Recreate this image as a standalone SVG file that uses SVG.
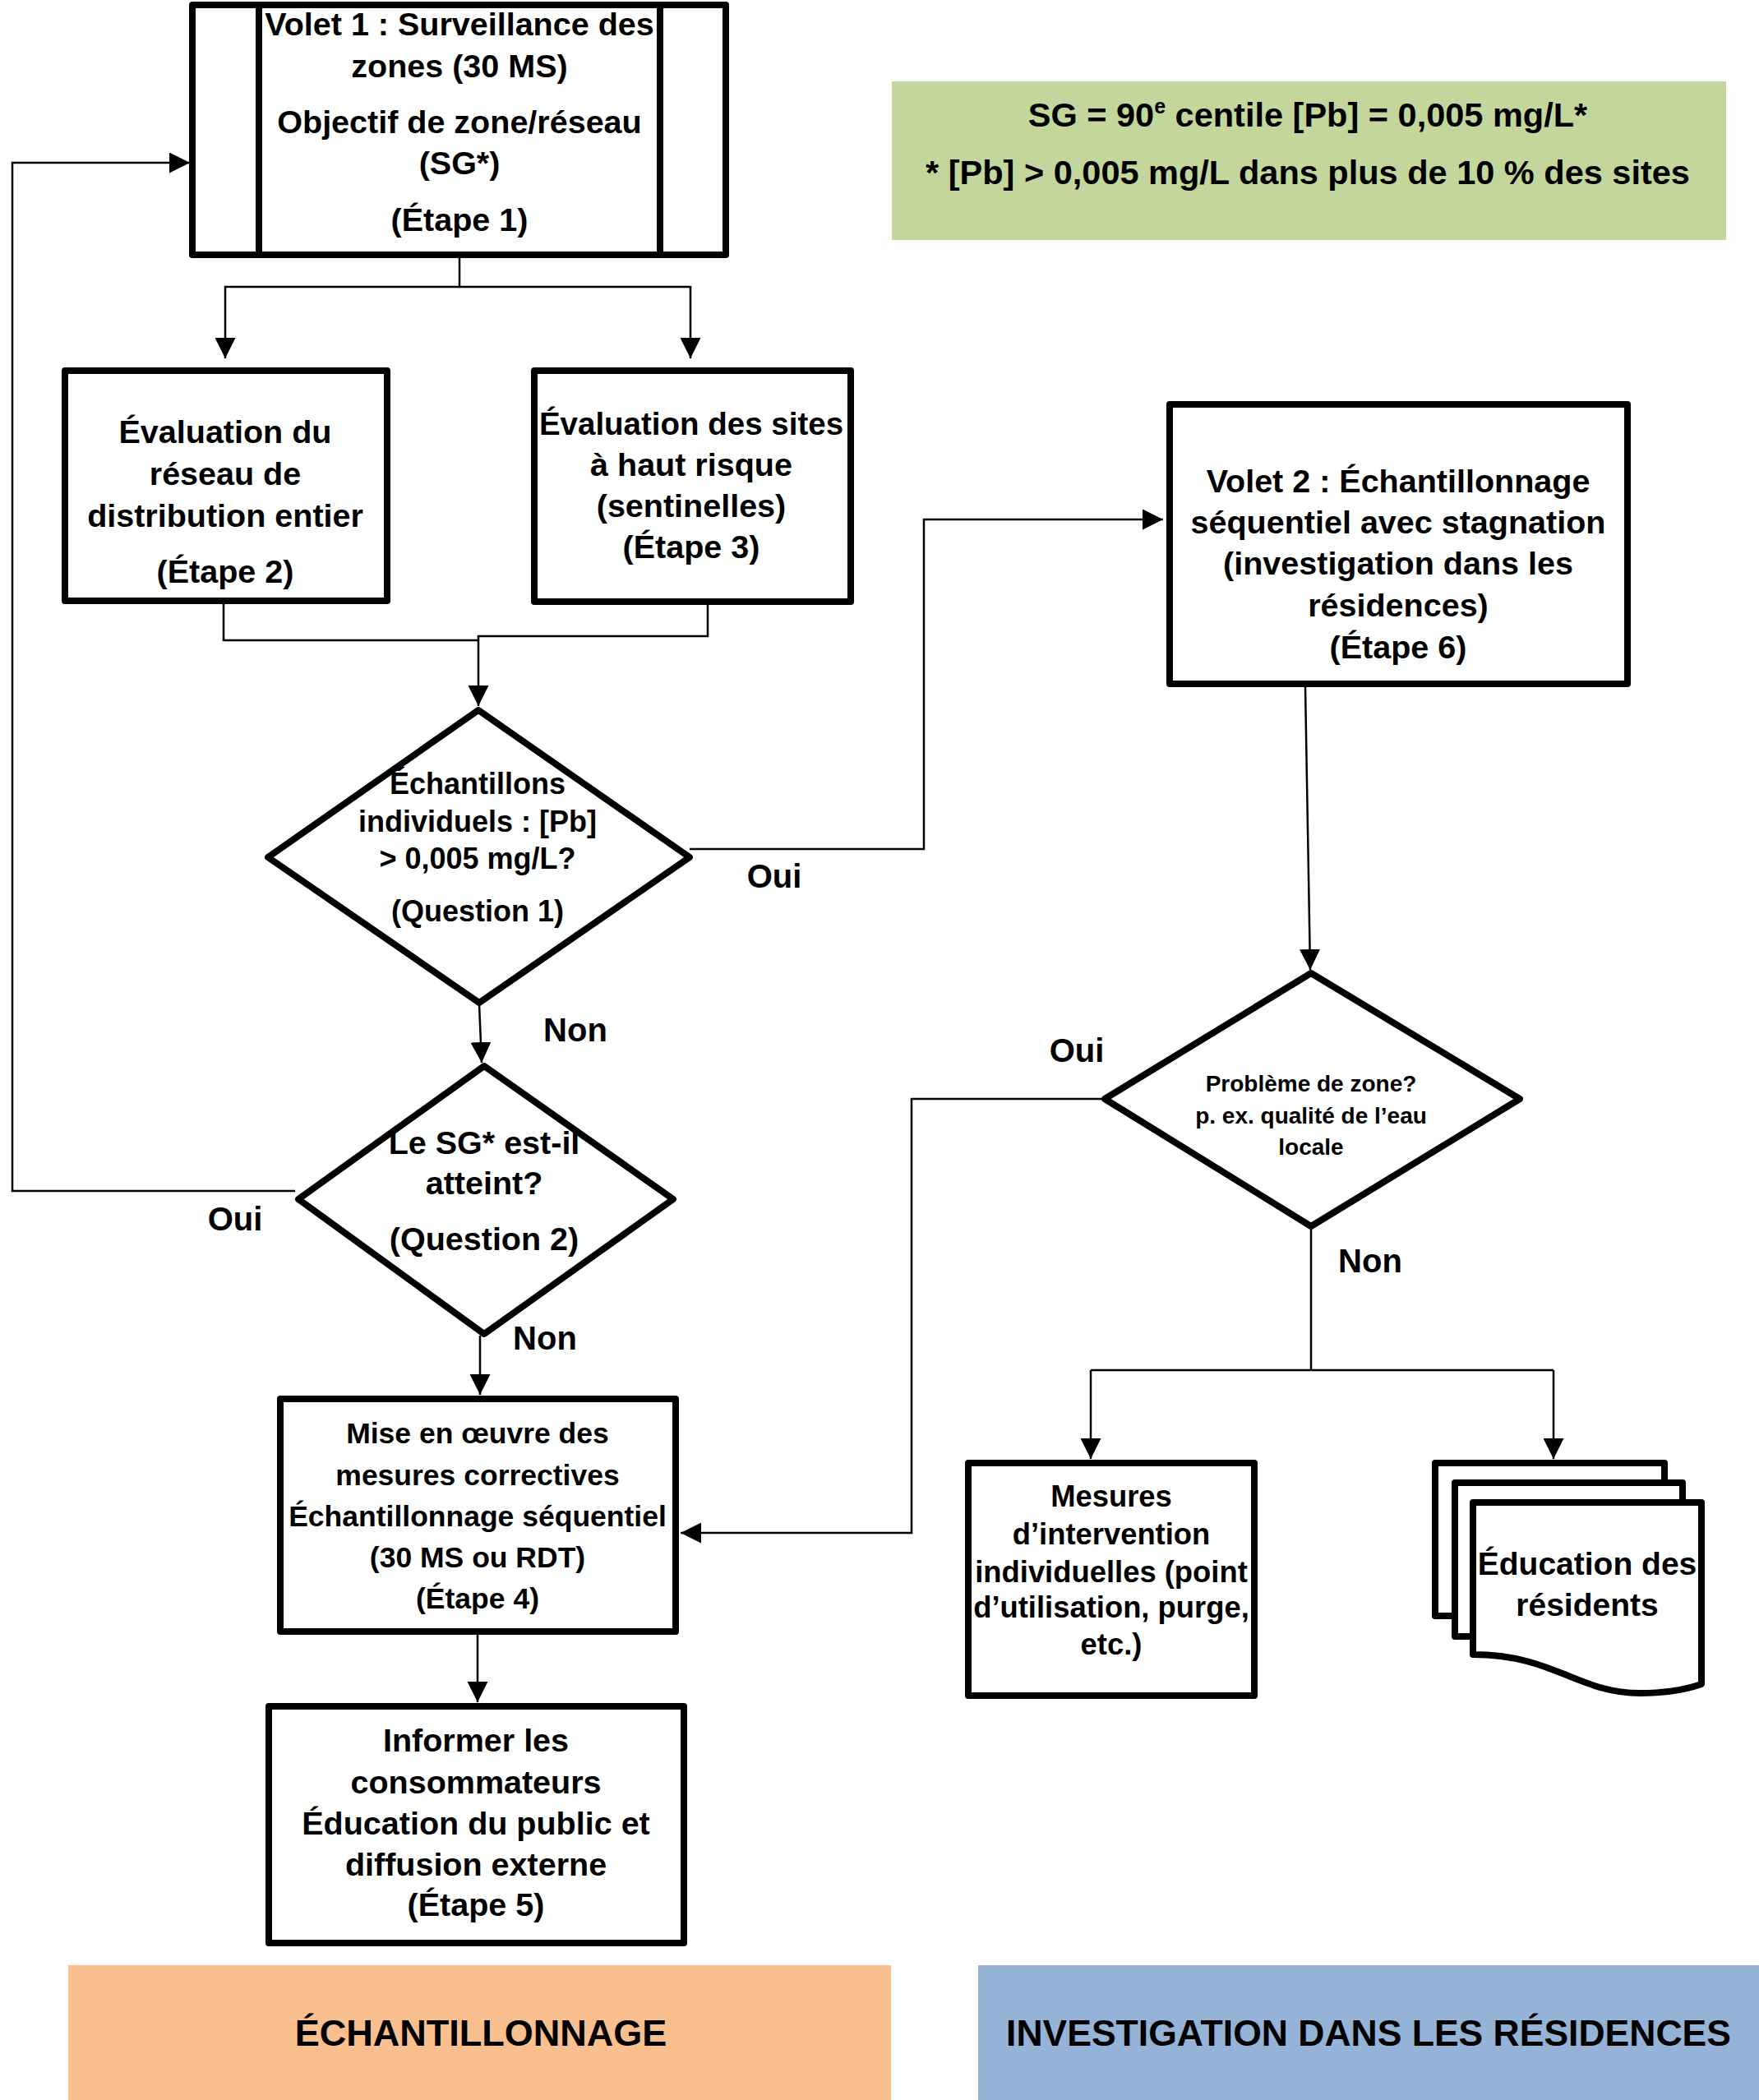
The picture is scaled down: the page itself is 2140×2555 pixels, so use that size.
<svg xmlns="http://www.w3.org/2000/svg" width="2140" height="2555" viewBox="0 0 2140 2555">
<defs>
<style>
.box{fill:#fff;stroke:#000;stroke-width:8;stroke-linejoin:round}
.conn{fill:none;stroke:#000;stroke-width:2.5}
.t{font-family:"Liberation Sans",Arial,sans-serif;font-weight:bold;fill:#000;text-anchor:middle}
.f40{font-size:39.5px}
.lbl{font-size:40px}
</style>
<marker id="ah" markerUnits="userSpaceOnUse" markerWidth="25" markerHeight="25" viewBox="0 0 25 25" refX="25" refY="12.5" orient="auto">
<path d="M0,0 L25,12.5 L0,25 z" fill="#000"/>
</marker>
</defs>
<rect x="0" y="0" width="2140" height="2555" fill="#fff"/>

<g id="connectors">
<path class="conn" d="M559,310 V349 H274 V436" marker-end="url(#ah)"/>
<path class="conn" d="M559,349 H840 V436" marker-end="url(#ah)"/>
<path class="conn" d="M272,735 V779 H582"/>
<path class="conn" d="M861,736 V774 H582 V859" marker-end="url(#ah)"/>
<path class="conn" d="M839,1033 H1124 V632 H1415" marker-end="url(#ah)"/>
<path class="conn" d="M583,1222 L586,1293" marker-end="url(#ah)"/>
<path class="conn" d="M359,1449 H15 V198 H231" marker-end="url(#ah)"/>
<path class="conn" d="M584,1625 V1697" marker-end="url(#ah)"/>
<path class="conn" d="M581,1987 V2071" marker-end="url(#ah)"/>
<path class="conn" d="M1588,836 L1594,1180" marker-end="url(#ah)"/>
<path class="conn" d="M1343,1337 H1109 V1865 H828" marker-end="url(#ah)"/>
<path class="conn" d="M1595,1493 V1667"/>
<path class="conn" d="M1327,1667 H1890"/>
<path class="conn" d="M1327,1667 V1775" marker-end="url(#ah)"/>
<path class="conn" d="M1890,1667 V1775" marker-end="url(#ah)"/>
</g>

<g id="labels">
<text class="t lbl" x="942" y="1080">Oui</text>
<text class="t lbl" x="700" y="1267">Non</text>
<text class="t lbl" x="286" y="1497">Oui</text>
<text class="t lbl" x="663" y="1642">Non</text>
<text class="t lbl" x="1310" y="1292">Oui</text>
<text class="t lbl" x="1667" y="1548">Non</text>
</g>

<g id="node-volet1">
<rect class="box" x="234" y="6" width="649" height="304"/>
<line x1="315" y1="6" x2="315" y2="310" stroke="#000" stroke-width="8"/>
<line x1="803" y1="6" x2="803" y2="310" stroke="#000" stroke-width="8"/>
<text class="t f40" x="559" y="43">Volet 1 : Surveillance des</text>
<text class="t f40" x="559" y="94">zones (30 MS)</text>
<text class="t f40" x="559" y="162">Objectif de zone/réseau</text>
<text class="t f40" x="559" y="212">(SG*)</text>
<text class="t f40" x="559" y="281">(Étape 1)</text>
</g>

<g id="node-sg-note">
<rect x="1085" y="99" width="1015" height="193" fill="#C3D69B"/>
<text class="t" style="font-size:41.5px" x="1591" y="154">SG = 90<tspan font-size="25" dy="-16">e</tspan><tspan dy="16"> centile [Pb] = 0,005 mg/L*</tspan></text>
<text class="t" style="font-size:41.5px" x="1591" y="224">* [Pb] &gt; 0,005 mg/L dans plus de 10 % des sites</text>
</g>

<g id="node-etape2">
<rect class="box" x="79" y="451" width="392" height="280"/>
<text class="t f40" x="274" y="539">Évaluation du</text>
<text class="t f40" x="274" y="590">réseau de</text>
<text class="t f40" x="274" y="641">distribution entier</text>
<text class="t f40" x="274" y="709">(Étape 2)</text>
</g>

<g id="node-etape3">
<rect class="box" x="650" y="451" width="385" height="281"/>
<text class="t" style="font-size:38.5px" x="841" y="529">Évaluation des sites</text>
<text class="t f40" x="841" y="579">à haut risque</text>
<text class="t f40" x="841" y="629">(sentinelles)</text>
<text class="t f40" x="841" y="679">(Étape 3)</text>
</g>

<g id="node-volet2">
<rect class="box" x="1423" y="492" width="557" height="340"/>
<text class="t f40" x="1701" y="599">Volet 2 : Échantillonnage</text>
<text class="t f40" x="1701" y="649">séquentiel avec stagnation</text>
<text class="t f40" x="1701" y="699">(investigation dans les</text>
<text class="t f40" x="1701" y="750">résidences)</text>
<text class="t f40" x="1701" y="801">(Étape 6)</text>
</g>

<g id="node-question1">
<polygon class="box" points="582,864 839,1043 583,1220 326,1043"/>
<text class="t" style="font-size:36px" x="581" y="966">Échantillons</text>
<text class="t" style="font-size:36px" x="581" y="1012">individuels : [Pb]</text>
<text class="t" style="font-size:36px" x="581" y="1057">&gt; 0,005 mg/L?</text>
<text class="t" style="font-size:36px" x="581" y="1121">(Question 1)</text>
</g>

<g id="node-question2">
<polygon class="box" points="589,1297 819,1459 589,1623 363,1459"/>
<text class="t f40" x="589" y="1404">Le SG* est-il</text>
<text class="t f40" x="589" y="1453">atteint?</text>
<text class="t f40" x="589" y="1521">(Question 2)</text>
</g>

<g id="node-question3">
<polygon class="box" points="1595,1184 1849,1337 1595,1492 1344,1337"/>
<text class="t" style="font-size:28px" x="1595" y="1328">Problème de zone?</text>
<text class="t" style="font-size:28px" x="1595" y="1367">p. ex. qualité de l’eau</text>
<text class="t" style="font-size:28px" x="1595" y="1405">locale</text>
</g>

<g id="node-etape4">
<rect class="box" x="341" y="1702" width="481" height="283"/>
<text class="t" style="font-size:35.5px" x="581" y="1756">Mise en œuvre des</text>
<text class="t" style="font-size:35.5px" x="581" y="1807">mesures correctives</text>
<text class="t" style="font-size:35.5px" x="581" y="1857">Échantillonnage séquentiel</text>
<text class="t" style="font-size:35.5px" x="581" y="1907">(30 MS ou RDT)</text>
<text class="t" style="font-size:35.5px" x="581" y="1957">(Étape 4)</text>
</g>

<g id="node-etape5">
<rect class="box" x="327" y="2076" width="505" height="288"/>
<text class="t f40" x="579" y="2131">Informer les</text>
<text class="t f40" x="579" y="2182">consommateurs</text>
<text class="t f40" x="579" y="2232">Éducation du public et</text>
<text class="t f40" x="579" y="2282">diffusion externe</text>
<text class="t f40" x="579" y="2331">(Étape 5)</text>
</g>

<g id="node-mesures">
<rect class="box" x="1178" y="1780" width="348" height="283"/>
<text class="t" style="font-size:36.4px" x="1352" y="1833">Mesures</text>
<text class="t" style="font-size:36.4px" x="1352" y="1879">d’intervention</text>
<text class="t" style="font-size:36.4px" x="1352" y="1925">individuelles (point</text>
<text class="t" style="font-size:36.4px" x="1352" y="1968">d’utilisation, purge,</text>
<text class="t" style="font-size:36.4px" x="1352" y="2013">etc.)</text>
</g>

<g id="node-education">
<rect class="box" x="1746" y="1780" width="279" height="186"/>
<rect class="box" x="1770" y="1804" width="277" height="187"/>
<path class="box" d="M1792,1828 H2070 V2049 C2050,2056 2025,2060 1995,2060 C1920,2060 1890,2013 1792,2013 Z"/>
<text class="t" style="font-size:39px" x="1931" y="1916">Éducation des</text>
<text class="t" style="font-size:39px" x="1931" y="1966">résidents</text>
</g>

<g id="band-echantillonnage">
<rect x="83" y="2391" width="1001" height="164" fill="#F9BF8F"/>
<text class="t" style="font-size:45px" x="585" y="2489">ÉCHANTILLONNAGE</text>
</g>

<g id="band-investigation">
<rect x="1190" y="2391" width="950" height="164" fill="#95B3D7"/>
<text class="t" style="font-size:44.5px" x="1665" y="2489">INVESTIGATION DANS LES RÉSIDENCES</text>
</g>
</svg>
